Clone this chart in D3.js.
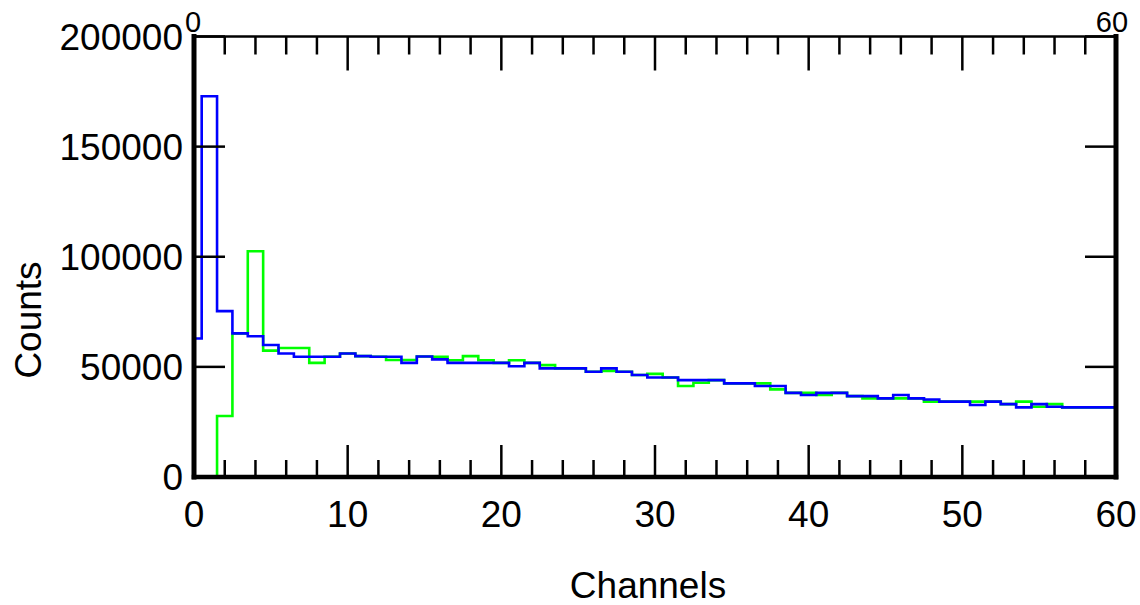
<!DOCTYPE html>
<html><head><meta charset="utf-8">
<script src="https://cdn.jsdelivr.net/npm/d3@7/dist/d3.min.js"></script>
<style>body{margin:0;background:#fff}svg{display:block}text{font-family:"Liberation Sans",Arial,sans-serif;fill:#000}</style>
</head><body><svg id="c" width="1140" height="605"></svg>
<script>
const channels = d3.range(0, 61);
const blueCounts = [62900,172900,75300,65200,63900,59900,56100,54600,54600,54600,
56100,54900,54600,54600,51800,54700,53400,51800,51800,51800,
51800,50300,51800,49300,49300,49300,47800,49300,47800,46300,
45200,45200,44000,44000,44000,42500,42500,41300,41300,38200,
37200,38200,38200,36700,36700,35700,37200,35700,35200,34200,
34200,32700,34200,33100,31600,33100,31900,31600,31600,31600,31600];
const greenCounts = [0,0,27700,65200,102500,57400,58600,58600,51800,54600,
56100,54900,54600,53100,53100,54700,54600,53000,54900,53000,
51800,53000,51800,50800,49300,49300,47800,48200,47800,46300,
46800,45200,41300,42800,44000,42500,42500,42500,39800,38200,
38200,37200,38200,36700,35700,35700,35700,35700,34200,34200,
34200,34200,34200,33100,34200,31900,33100,31600,31600,31600,31600];
const xMinorTicks = d3.range(0, 61, 2);
const xMajorTicks = [0, 10, 20, 30, 40, 50, 60];
const yTicks = [0, 50000, 100000, 150000, 200000];
const topLabels = [0, 60];

const L = 194, R = 1116, T = 36.5, B = 477;
const svg = d3.select("#c");
const x = d3.scaleLinear().domain([0, 60]).range([L, R]);
const y = d3.scaleLinear().domain([0, 200000]).range([B, T]);

svg.append("clipPath").attr("id","clip").append("rect")
  .attr("x", L).attr("y", T).attr("width", R - L).attr("height", B - T);

function stepPts(vals){
  const pts = [];
  vals.forEach((v,i)=>{ pts.push([channels[i]-0.5, v]); pts.push([channels[i]+0.5, v]); });
  return pts;
}
const line = d3.line().x(d=>x(d[0])).y(d=>y(d[1]));
const g = svg.append("g").attr("clip-path","url(#clip)");
g.append("path").attr("d", line(stepPts(greenCounts))).attr("fill","none")
  .attr("stroke","#00ff00").attr("stroke-width",2.6);
g.append("path").attr("d", line(stepPts(blueCounts))).attr("fill","none")
  .attr("stroke","#0000ff").attr("stroke-width",2.6);

// ticks
const tk = svg.append("g").attr("stroke","#000").attr("stroke-width",2.5);
xMinorTicks.forEach(v=>{
  const len = (v % 10 === 0) ? 32 : 17;
  const lenT = (v % 10 === 0) ? 34 : 18;
  if (v !== 0 && v !== 60){
    tk.append("line").attr("x1",x(v)).attr("x2",x(v)).attr("y1",B).attr("y2",B-len);
    tk.append("line").attr("x1",x(v)).attr("x2",x(v)).attr("y1",T).attr("y2",T+lenT);
  }
});
yTicks.forEach(v=>{
  tk.append("line").attr("x1",L).attr("x2",L+31).attr("y1",y(v)).attr("y2",y(v));
  tk.append("line").attr("x1",R).attr("x2",R-31).attr("y1",y(v)).attr("y2",y(v));
});

// frame
const fr = svg.append("g").attr("stroke","#000").attr("stroke-linecap","square");
fr.append("line").attr("x1",L).attr("x2",R).attr("y1",T).attr("y2",T).attr("stroke-width",2.5);
fr.append("line").attr("x1",L).attr("x2",R).attr("y1",B).attr("y2",B).attr("stroke-width",4.5);
fr.append("line").attr("x1",L).attr("x2",L).attr("y1",T).attr("y2",B).attr("stroke-width",5);
fr.append("line").attr("x1",R).attr("x2",R).attr("y1",T).attr("y2",B).attr("stroke-width",5);

// labels
svg.selectAll(".yl").data(yTicks).enter().append("text")
  .attr("x", 183).attr("y", d=>y(d)+13).attr("text-anchor","end")
  .style("font-size","37px").text(d=>d);
svg.selectAll(".xl").data(xMajorTicks).enter().append("text")
  .attr("x", d=>x(d)).attr("y", 527).attr("text-anchor","middle")
  .style("font-size","37px").text(d=>d);
svg.selectAll(".tl").data(topLabels).enter().append("text")
  .attr("x", d=>x(d) - (d===0?1:4)).attr("y", 32).attr("text-anchor","middle")
  .style("font-size","29px").text(d=>d);
svg.append("text").attr("x", 648).attr("y", 598).attr("text-anchor","middle")
  .style("font-size","37px").text("Channels");
svg.append("text").attr("transform","translate(41,320) rotate(-90)").attr("text-anchor","middle")
  .style("font-size","37px").text("Counts");
</script></body></html>
